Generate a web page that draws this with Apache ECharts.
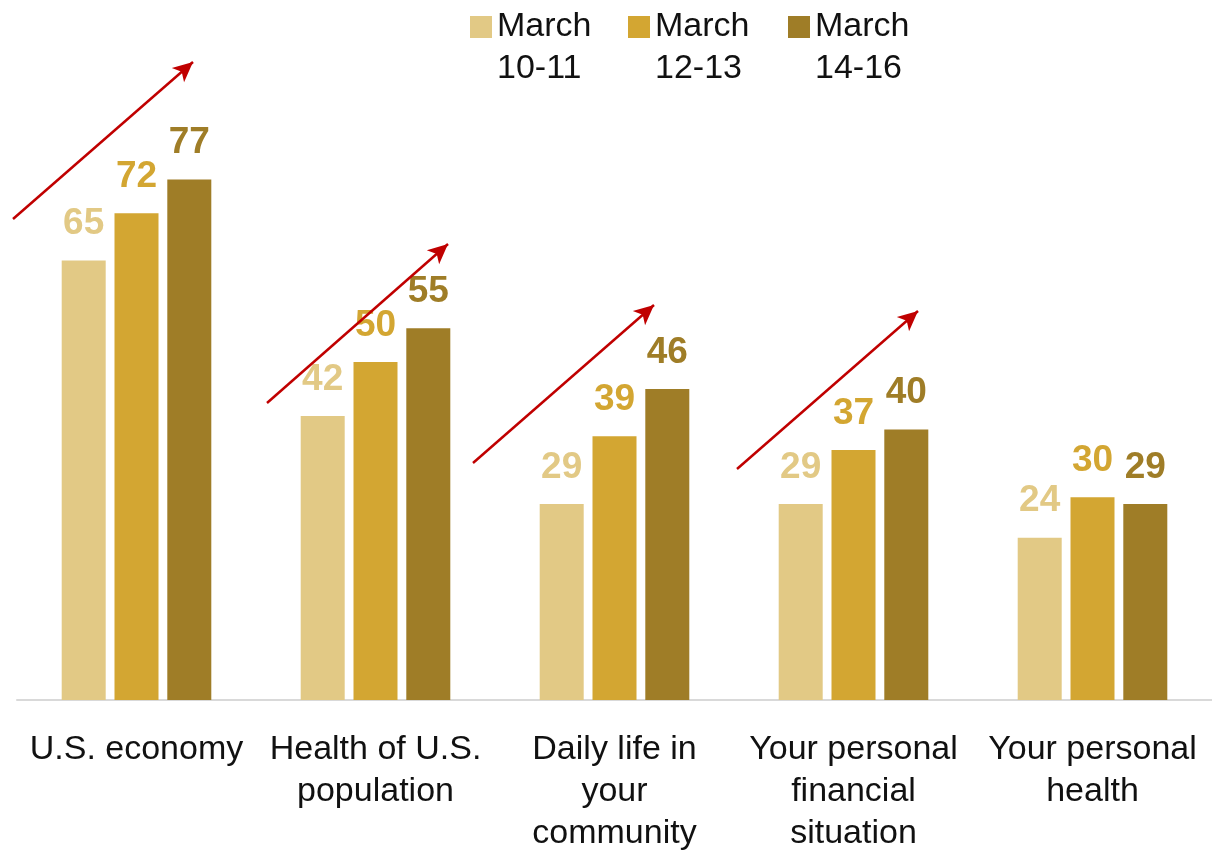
<!DOCTYPE html>
<html>
<head>
<meta charset="utf-8">
<title>Views by date</title>
<script src="https://cdn.jsdelivr.net/npm/echarts@6/dist/echarts.min.js"></script>
<style>
    html, body { margin: 0; padding: 0; background: #fff; }
    #main { width: 1212px; height: 855px; }
</style>
</head>
<body>
<div id="main"></div>
<script>
// categories on the x axis
var categories = ['U.S. economy', 'Health of U.S.\npopulation', 'Daily life in\nyour\ncommunity',
    'Your personal\nfinancial\nsituation', 'Your personal\nhealth'];
// legend names
var seriesNames = ['March\n10-11', 'March\n12-13', 'March\n14-16'];
// values for each survey period
var march1011 = [65, 42, 29, 29, 24];
var march1213 = [72, 50, 39, 37, 30];
var march1416 = [77, 55, 46, 40, 29];

var colors = ['#E2C985', '#D3A632', '#9F7D27'];
var font = '"Liberation Sans", Arial, sans-serif';

// red trend arrows (annotation only, pixel coords: tail -> head)
var arrows = [
    [[13, 219], [193, 62]],
    [[267, 403], [448, 244]],
    [[473, 463], [654, 305]],
    [[737, 469], [918, 311]]
];

var myChart = echarts.init(document.getElementById('main'));

function makeSeries(idx, data) {
    return {
        name: seriesNames[idx],
        type: 'bar',
        data: data,
        barWidth: 44,
        barGap: '20%',
        itemStyle: {color: colors[idx]},
        label: {
            show: true,
            position: 'top',
            distance: 18,
            color: colors[idx],
            fontFamily: font,
            fontWeight: 'bold',
            fontSize: 37
        }
    };
}

// legend square sits on first text line; extra moveTo points stretch the bbox
var legendIcon = 'path://M0,0M0,10h22v22h-22zM0,84';

function makeLegend(idx, left) {
    return {
        data: [seriesNames[idx]],
        left: left,
        top: 6,
        padding: 0,
        icon: legendIcon,
        itemWidth: 22,
        itemHeight: 84,
        itemGap: 5,
        selectedMode: false,
        textStyle: {
            fontFamily: font,
            fontSize: 34,
            lineHeight: 42,
            color: '#111'
        }
    };
}

var series = [makeSeries(0, march1011), makeSeries(1, march1213), makeSeries(2, march1416)];
series[2].markLine = {
    silent: true,
    symbol: ['none', 'arrow'],
    symbolSize: [14, 20],
    label: {show: false},
    lineStyle: {color: '#C00000', width: 2.5, type: 'solid'},
    data: arrows.map(function (a) {
        return [{x: a[0][0], y: a[0][1]}, {x: a[1][0], y: a[1][1]}];
    })
};

var option = {
    animation: false,
    legend: [makeLegend(0, 470), makeLegend(1, 628), makeLegend(2, 788)],
    grid: {
        left: 17,
        width: 1198,
        top: 24,
        bottom: 148,
        containLabel: false
    },
    xAxis: {
        type: 'category',
        data: categories,
        axisTick: {show: false},
        axisLine: {lineStyle: {color: '#D9D9D9', width: 2}},
        axisLabel: {
            interval: 0,
            margin: 29,
            fontFamily: font,
            fontSize: 34,
            lineHeight: 42,
            color: '#111'
        }
    },
    yAxis: {
        type: 'value',
        min: 0,
        max: 100,
        show: false,
        splitLine: {show: false}
    },
    series: series
};

myChart.setOption(option);
</script>
</body>
</html>
